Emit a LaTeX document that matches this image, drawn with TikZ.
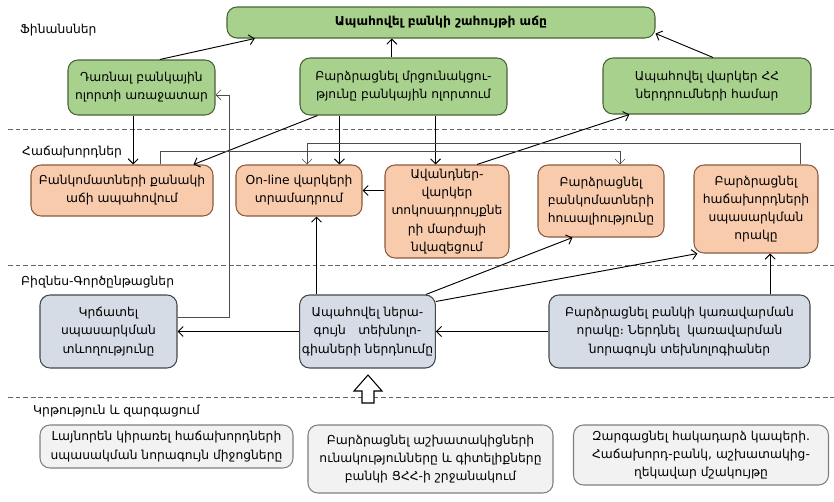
\documentclass[tikz,border=0pt]{standalone}
\usepackage{fontspec}
\setmainfont{DejaVu Sans}
\usepackage{tikz}
\usetikzlibrary{arrows.meta}
\usepackage{xcolor}

\definecolor{fingreen}{HTML}{A9D18E}
\definecolor{finedge}{HTML}{4A6338}
\definecolor{custorange}{HTML}{F8CBAD}
\definecolor{custedge}{HTML}{8C5A3C}
\definecolor{procblue}{HTML}{D6DCE5}
\definecolor{procedge}{HTML}{44474C}
\definecolor{learngray}{HTML}{F2F2F2}
\definecolor{learnedge}{HTML}{7F7F7F}

\begin{document}
\begin{tikzpicture}[x=0.03cm, y=-0.03cm,
    box/.style={rectangle, rounded corners=0.3cm, draw, line width=0.9pt, align=center, inner sep=2pt, font=\fontsize{10.5}{15.5}\selectfont},
    grnbox/.style={box, fill=fingreen, draw=finedge},
    orgbox/.style={box, fill=custorange, draw=custedge},
    blubox/.style={box, fill=procblue, draw=procedge},
    grybox/.style={box, fill=learngray, draw=learnedge},
    lbl/.style={anchor=west, inner sep=0pt, font=\fontsize{10.5}{13}\selectfont},
    arr/.style={-{Straight Barb[length=1.5mm,width=3mm]}, line width=0.8pt},
    thinarr/.style={arr, line width=0.5pt, draw=black!70},
    sep/.style={dash pattern=on 4pt off 2.5pt, draw=black!60, line width=0.6pt}]

          \useasboundingbox (0,0) rectangle (834,502);

          % Separators
          \foreach \y in {129,265,397}
            \draw[sep] (8,\y) -- (834,\y);

          % Perspective labels
          \node[lbl] (lfin)   at (20,30)  {Ֆինանսներ};
          \node[lbl] (lcust)  at (22,152) {Հաճախորդներ};
          \node[lbl] (lproc)  at (21,282) {Բիզնես-Գործընթացներ};
          \node[lbl] (llearn) at (33,411) {Կրթություն և զարգացում};

          % Finances
          \node[grnbox, minimum width=12.84cm, minimum height=0.93cm, font=\fontsize{10.5}{13}\bfseries] (profit) at (441,22.5) {Ապահովել բանկի շահույթի աճը};
          \node[grnbox, minimum width=4.41cm, minimum height=1.65cm] (lead) at (141.5,87.5) {Դառնալ բանկային\\ոլորտի առաջատար};
          \node[grnbox, minimum width=6.21cm, minimum height=1.71cm] (compete) at (403.5,86.5) {Բարձրացնել մրցունակցու-\\թյունը բանկային ոլորտում};
          \node[grnbox, minimum width=6.24cm, minimum height=1.68cm] (invest) at (707,86) {Ապահովել վարկեր ՀՀ\\ներդրումների համար};

          % Customers
          \node[orgbox, minimum width=5.46cm, minimum height=1.53cm] (atmcount) at (122,190.5) {Բանկոմատների քանակի\\աճի ապահովում};
          \node[orgbox, minimum width=3.78cm, minimum height=1.53cm] (online) at (299,190.5) {On-line վարկերի\\տրամադրում};
          \node[orgbox, minimum width=3.72cm, minimum height=2.79cm] (margin) at (447,211.5) {Ավանդներ-\\վարկեր\\տոկոսադրույքնե\\րի մարժայի\\նվազեցում};
          \node[orgbox, minimum width=3.78cm, minimum height=2.16cm] (atmrel) at (601,201) {Բարձրացնել\\բանկոմատների\\հուսալիությունը};
          \node[orgbox, minimum width=3.72cm, minimum height=2.64cm] (service) at (756,209) {Բարձրացնել\\հաճախորդների\\սպասարկման\\որակը};

          % Business processes
          \node[blubox, minimum width=4.11cm, minimum height=2.19cm] (shorten) at (108.5,331.5) {Կրճատել\\սպասարկման\\տևողությունը};
          \node[blubox, minimum width=4.05cm, minimum height=2.19cm] (newtech) at (367.5,331.5) {Ապահովել ներա-\\գույն\quad տեխնոլո-\\գիաների ներդնումը};
          \node[blubox, minimum width=7.83cm, minimum height=2.19cm] (mgmt) at (679.5,331.5) {Բարձրացնել բանկի կառավարման\\որակը։ Ներդնել\ \ կառավարման\\նորագույն տեխնոլոգիաներ};

          % Learning and growth
          \node[grybox, minimum width=7.59cm, minimum height=1.29cm] (tools) at (166.5,446.5) {Լայնորեն կիրառել հաճախորդների\\սպասակման նորագույն միջոցները};
          \node[grybox, minimum width=7.35cm, minimum height=2.04cm] (skills) at (430.5,459) {Բարձրացնել աշխատակիցների\\ունակությունները և գիտելիքները\\բանկի ՑՀՀ-ի շրջանակում};
          \node[grybox, minimum width=7.65cm, minimum height=1.8cm] (feedback) at (701,455) {Զարգացնել հակադարձ կապերի.\\Հաճախորդ-բանկ, աշխատակից-\\ղեկավար մշակույթը};

          % Links into finances
          \draw[arr] ([xshift=0.55cm]lead.north) -- ([xshift=0.85cm]profit.south west);
          \draw[arr] ([xshift=-0.35cm]compete.north) -- ([xshift=-0.35cm]compete.north |- profit.south);
          \draw[arr] ([xshift=0.18cm]invest.north) -- ([yshift=0.15cm]profit.south east);
          \draw[arr] ([xshift=0.9cm]margin.north) -- ([xshift=0.81cm]invest.south west);

          % Finances to customers
          \draw[arr] ([xshift=-0.25cm]lead.south) -- ([xshift=-0.25cm]lead.south |- atmcount.north);
          \draw[arr] ([xshift=0.54cm]compete.south west) -- ([xshift=-0.6cm]atmcount.north east);
          \draw[arr] ([xshift=1.2cm]compete.south west) -- ([xshift=1.2cm]compete.south west |- online.north);
          \draw[arr] ([xshift=-2.16cm]compete.south east) -- ([xshift=-2.16cm]compete.south east |- margin.north);

          % Links inside customers
          \draw[thinarr] ([xshift=1.14cm]atmcount.north) |- ([xshift=0.57cm,yshift=0.39cm]atmrel.north) -- ([xshift=0.57cm]atmrel.north);
          \draw[thinarr] ([xshift=1.32cm]service.north) |- ([xshift=0.24cm,yshift=0.63cm]online.north) -- ([xshift=0.24cm]online.north);
          \draw[arr] (margin.west |- online.east) -- (online.east);

          % Processes to customers
          \draw[arr] ([xshift=-1.53cm]newtech.north) -- ([xshift=-1.53cm]newtech.north |- online.south);
          \draw[arr] ([xshift=-0.3cm]newtech.north east) -- ([xshift=1.05cm]atmrel.south west);
          \draw[arr] ([yshift=-0.21cm]newtech.north east) -- ([xshift=0.12cm]service.south west);
          \draw[arr] ([xshift=2.72cm]mgmt.north) -- ([xshift=2.72cm]mgmt.north |- service.south);

          % Links inside processes
          \draw[arr] (mgmt.west) -- (newtech.east);
          \draw[arr] (newtech.west) -- (shorten.east);
          \draw[thinarr] ([yshift=0.43cm]shorten.east) -- ++(1.55cm,0) |- ([yshift=-0.22cm]lead.east);

          % Learning pushes processes
          \draw[fill=white, line width=0.9pt] (362,403) -- (362,391) -- (354,391) -- (368,375) -- (382,391) -- (374,391) -- (374,403) -- cycle;

        \end{tikzpicture}
\end{document}
